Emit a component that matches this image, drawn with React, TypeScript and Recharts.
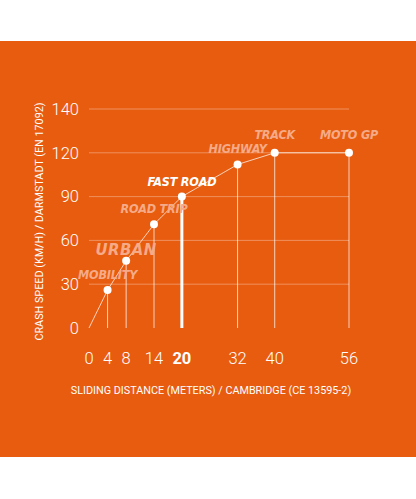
import React from 'react';
import { LineChart, Line, XAxis, YAxis, ReferenceLine, LabelList, Label } from 'recharts';

// values
const distances = [0, 4, 8, 14, 20, 32, 40, 56];
const speeds = [0, 26, 46, 71, 90, 112, 120, 120];
const categories = ['', 'MOBILITY', 'URBAN', 'ROAD TRIP', 'FAST ROAD', 'HIGHWAY', 'TRACK', 'MOTO GP'];
const speedTicks = [0, 30, 60, 90, 120, 140];
const highlight = 'FAST ROAD';

const ORANGE = '#e85c0f';
const FAINT = 'rgba(255,255,255,0.72)';
const LABEL_FILL = '#f5ab88';
const topSpeed = Math.max(...speeds);

// the speed axis is spaced by tick, not by value
const speedToSlot = (v: number) => {
  for (let i = 1; i < speedTicks.length; i++) {
    if (v <= speedTicks[i]) {
      const lo = speedTicks[i - 1];
      return i - 1 + (v - lo) / (speedTicks[i] - lo);
    }
  }
  return speedTicks.length - 1;
};

const data = distances.map((d, i) => ({
  distance: d,
  speed: speeds[i],
  slot: speedToSlot(speeds[i]),
  category: categories[i],
}));

const slotTicks = speedTicks.map((_, i) => i);

const Dot = (props: any) => {
  const { cx, cy, index } = props;
  if (index === 0) return <g key="dot-0" />;
  return <circle key={`dot-${index}`} cx={cx} cy={cy} r={4} fill="#fff" />;
};

const DistanceTick = (props: any) => {
  const { x, y, payload } = props;
  const bold = payload.value === 20;
  return (
    <text
      x={x}
      y={y}
      dy={30}
      textAnchor="middle"
      fill="#fff"
      fontSize={16.5}
      fontWeight={bold ? 700 : 300}
      fontFamily="Roboto, sans-serif"
    >
      {payload.value}
    </text>
  );
};

const CategoryLabel = (props: any) => {
  const { x, y, value, index } = props;
  if (!value) return null;
  const big = value === 'URBAN';
  const isHi = value === highlight;
  const atTop = speeds[index] === topSpeed;
  return (
    <text
      x={x}
      y={y}
      dy={big ? -6 : atTop ? -14 : -11}
      textAnchor="middle"
      fill={isHi ? '#fff' : LABEL_FILL}
      fontSize={big ? 16.5 : 12.5}
      fontWeight={700}
      fontStyle="italic"
      fontFamily="'DejaVu Sans Condensed', sans-serif"
      letterSpacing={big ? 0.5 : -0.2}
    >
      {value}
    </text>
  );
};

export default function App() {
  return (
    <div style={{ position: 'absolute', left: 0, top: 0, width: 416, height: 499, background: '#fff' }}>
      <div style={{ position: 'absolute', left: 0, top: 41, width: 416, height: 416, background: ORANGE }}>
        <LineChart width={416} height={416} data={data} margin={{ top: 68, right: 67, left: 0, bottom: 0 }}>
          <XAxis
            dataKey="distance"
            type="number"
            domain={[0, 56]}
            ticks={distances}
            interval={0}
            axisLine={false}
            tickLine={false}
            tickMargin={0}
            height={129}
            tick={<DistanceTick />}
          >
            <Label
              value="SLIDING DISTANCE (METERS) / CAMBRIDGE (CE 13595-2)"
              position="center"
              dx={-8}
              dy={-2}
              fill="#fff"
              fontSize={10.8}
              fontFamily="Roboto, sans-serif"
            />
          </XAxis>
          <YAxis
            dataKey="slot"
            type="number"
            domain={[0, speedTicks.length - 1]}
            ticks={slotTicks}
            tickFormatter={(i: number) => String(speedTicks[i])}
            axisLine={false}
            tickLine={false}
            tickMargin={4}
            width={89}
            tick={{ fill: '#fff', fontSize: 16.5, fontWeight: 300, fontFamily: 'Roboto, sans-serif' }}
          >
            <Label
              value="CRASH SPEED (KM/H) / DARMSTADT (EN 17092)"
              position="center"
              angle={-90}
              dx={-5}
              dy={3}
              fill="#fff"
              fontSize={10.8}
              fontFamily="Roboto, sans-serif"
            />
          </YAxis>
          {slotTicks.slice(1).map((t) => (
            <ReferenceLine key={`grid-${t}`} y={t} stroke="rgba(255,255,255,0.32)" strokeWidth={1} />
          ))}
          {data.slice(1).map((d) => (
            <ReferenceLine
              key={`drop-${d.distance}`}
              segment={[
                { x: d.distance, y: 0 },
                { x: d.distance, y: d.slot },
              ]}
              stroke={d.category === highlight ? '#fff' : FAINT}
              strokeWidth={d.category === highlight ? 3 : 1}
            />
          ))}
          <Line
            type="linear"
            dataKey="slot"
            stroke={FAINT}
            strokeWidth={1}
            dot={<Dot />}
            activeDot={false}
            isAnimationActive={false}
          >
            <LabelList dataKey="category" content={<CategoryLabel />} />
          </Line>
        </LineChart>
      </div>
    </div>
  );
}
